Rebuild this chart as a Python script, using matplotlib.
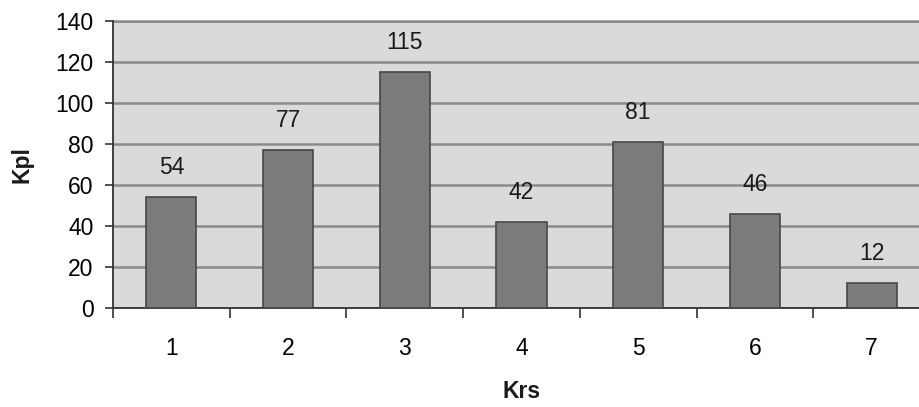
import matplotlib
matplotlib.use("Agg")
import matplotlib.pyplot as plt

categories = [1, 2, 3, 4, 5, 6, 7]
values = [54, 77, 115, 42, 81, 46, 12]
yticks = [0, 20, 40, 60, 80, 100, 120, 140]

plt.rcParams['font.family'] = ['Liberation Sans', 'DejaVu Sans']

fig = plt.figure(figsize=(9.2, 4.07), dpi=100)
ax = fig.add_axes([113/920, 99/407, 817/920, 287/407])
ax.set_facecolor('#dadada')

ax.bar(categories, values, width=0.43, color='#7b7b7b', edgecolor='#474747',
       linewidth=1.2, zorder=3)
for x, v in zip(categories, values):
    ax.annotate(str(v), (x, v), xytext=(0, 13), textcoords='offset points',
                ha='center', va='bottom', fontsize=16.5, color='#1a1a1a', zorder=4)

ax.set_xlim(0.5, 7.5)
ax.set_ylim(0, 140)
ax.set_yticks(yticks)
ax.set_xticks(categories)
ax.set_xticks([1.5 + i for i in range(7)] + [0.5], minor=True)
ax.tick_params(axis='x', which='major', length=0, pad=21, labelsize=16.5)
ax.tick_params(axis='x', which='minor', length=7, width=1.2, color='#333333')
ax.tick_params(axis='y', length=6, width=1.2, color='#333333', labelsize=16.5, pad=8)
ax.grid(axis='y', color='#8a8a8a', linewidth=1.8, zorder=1)
ax.set_axisbelow(True)
ax.axhline(140, color='#8a8a8a', linewidth=1.8, zorder=1, clip_on=False)

for s in ['top', 'right']:
    ax.spines[s].set_visible(False)
ax.spines['left'].set_color('#333333')
ax.spines['left'].set_linewidth(1.3)
ax.spines['bottom'].set_color('#333333')
ax.spines['bottom'].set_linewidth(1.3)

ax.set_ylabel('Kpl', fontsize=16.5, fontweight='bold', color='#1a1a1a')
ax.set_xlabel('Krs', fontsize=16.5, fontweight='bold', color='#1a1a1a')
ax.yaxis.set_label_coords((22 - 113) / 817, 0.5)
ax.yaxis.label.set_va('center')
ax.xaxis.set_label_coords((522 - 113) / 817, -(392 - 308) / 287)
ax.xaxis.label.set_va('center')

fig.savefig('out.png', dpi=100, facecolor='white')
